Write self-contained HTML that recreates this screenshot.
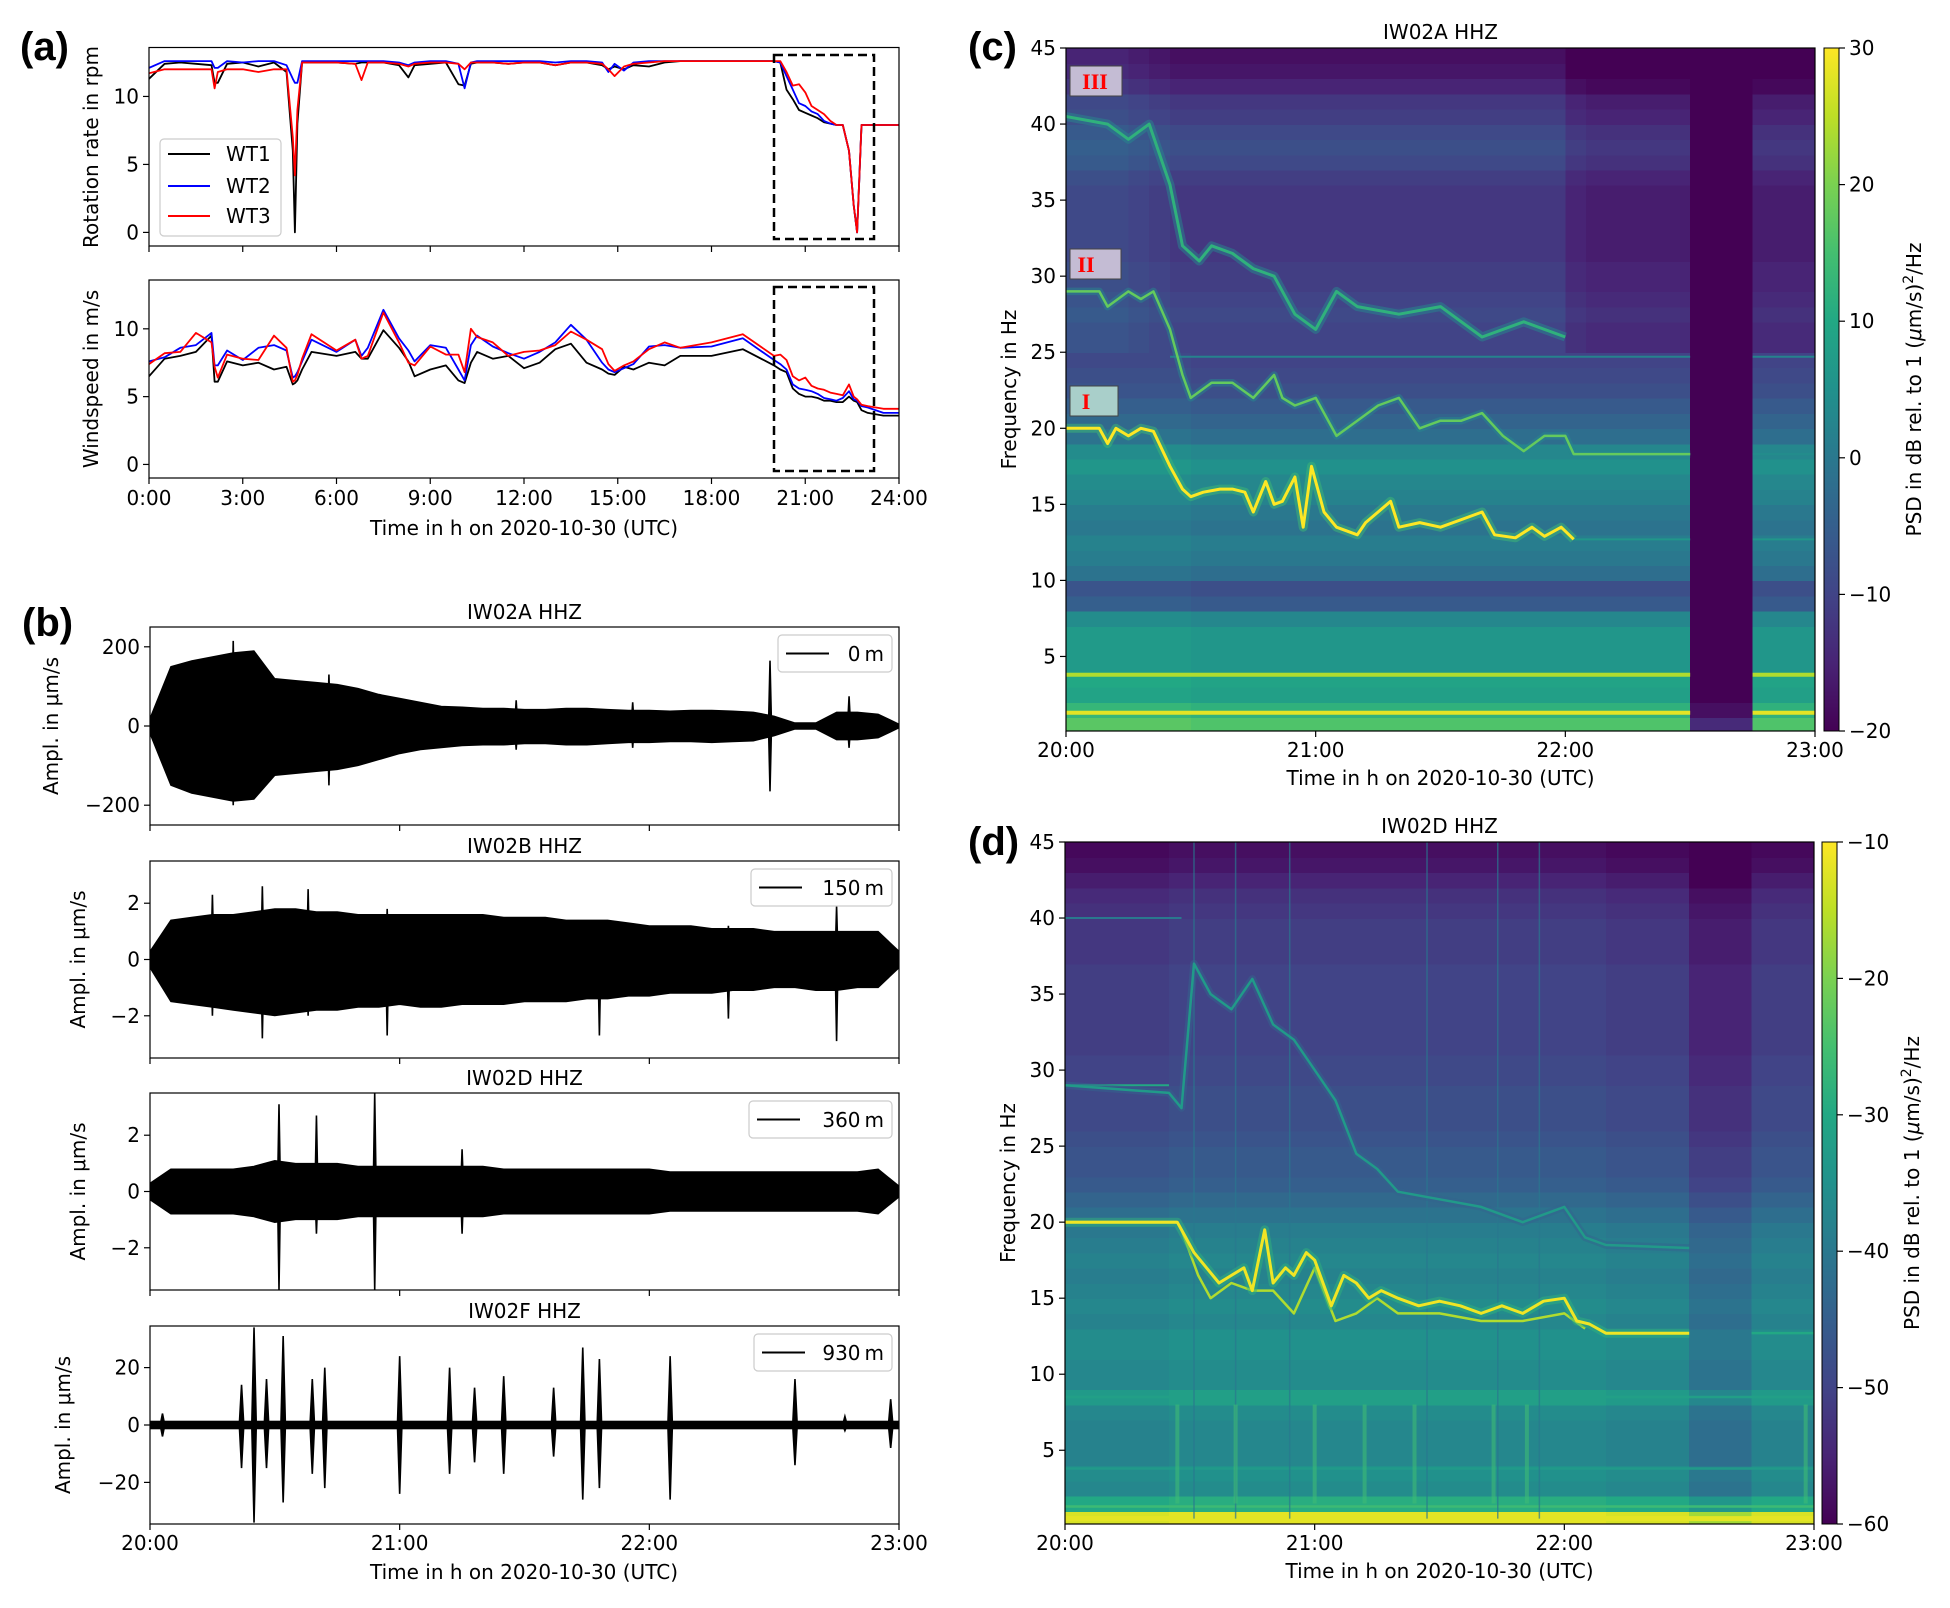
<!DOCTYPE html>
<html><head><meta charset="utf-8">
<style>
html,body{margin:0;padding:0;background:#fff;}
svg{display:block;}
text{font-family:"DejaVu Sans","Liberation Sans",sans-serif;}
</style></head>
<body>
<svg id="fig" width="1950" height="1608" viewBox="0 0 1950 1608" xmlns="http://www.w3.org/2000/svg">
<defs>
<linearGradient id="vir" x1="0" y1="1" x2="0" y2="0">
<stop offset="0" stop-color="#440154"/><stop offset="0.1" stop-color="#482475"/><stop offset="0.2" stop-color="#414487"/><stop offset="0.3" stop-color="#355f8d"/><stop offset="0.4" stop-color="#2a788e"/><stop offset="0.5" stop-color="#21918c"/><stop offset="0.6" stop-color="#22a884"/><stop offset="0.7" stop-color="#44bf70"/><stop offset="0.8" stop-color="#7ad151"/><stop offset="0.9" stop-color="#bddf26"/><stop offset="1" stop-color="#fde725"/>
</linearGradient>
<clipPath id="clipA1"><rect x="149" y="47.5" width="750" height="198.5"/></clipPath>
<clipPath id="clipA2"><rect x="149" y="280" width="750" height="198"/></clipPath>
<clipPath id="clipC"><rect x="1066" y="48" width="749" height="683"/></clipPath>
<clipPath id="clipD"><rect x="1065" y="842" width="749" height="682"/></clipPath>
</defs>
<text x="20" y="60" font-size="40" font-weight="bold" style="font-family:'Liberation Sans',sans-serif">(a)</text>
<text x="22" y="636" font-size="40" font-weight="bold" style="font-family:'Liberation Sans',sans-serif">(b)</text>
<text x="968" y="60" font-size="40" font-weight="bold" style="font-family:'Liberation Sans',sans-serif">(c)</text>
<text x="968" y="855" font-size="40" font-weight="bold" style="font-family:'Liberation Sans',sans-serif">(d)</text>
<g id="root"></g>
</svg>
<script>
// ---------- Panel (a) data ----------
const timesA = [0,0.5,1,1.5,2,2.1,2.2,2.5,3,3.5,4,4.4,4.6,4.67,4.75,4.9,5.2,6,6.6,6.8,7,7.5,8,8.3,8.5,9,9.5,9.9,10.1,10.3,10.5,11,11.5,12,12.5,13,13.5,14,14.5,14.7,14.9,15.2,15.5,16,16.5,17,18,19,20,20.2,20.4,20.6,20.8,21,21.2,21.4,21.6,21.8,22,22.2,22.4,22.55,22.66,22.8,23,23.5,24];
const rotWT1 = [11.3,12.4,12.5,12.4,12.3,11.0,11.0,12.4,12.5,12.2,12.5,11.8,6,0,8,12.5,12.5,12.5,12.4,12.5,12.5,12.5,12.3,11.4,12.3,12.4,12.5,10.9,10.8,12.4,12.5,12.5,12.4,12.5,12.5,12.3,12.5,12.5,12.3,12.0,12.2,12.0,12.3,12.2,12.5,12.6,12.6,12.6,12.6,12.5,10.5,9.8,9.0,8.8,8.6,8.4,8.1,8.0,7.9,7.9,6,2,0,7.9,7.9,7.9,7.9];
const rotWT2 = [12.1,12.6,12.6,12.6,12.6,12.1,12.1,12.6,12.5,12.6,12.6,12.3,11.3,11.0,11.0,12.6,12.6,12.6,12.6,12.6,12.6,12.6,12.5,12.3,12.5,12.6,12.6,12.4,10.6,12.5,12.6,12.6,12.6,12.6,12.6,12.5,12.6,12.6,12.5,11.8,12.4,11.9,12.5,12.6,12.6,12.6,12.6,12.6,12.6,12.5,11.5,10.5,9.5,9.3,8.9,8.7,8.2,8.0,7.9,7.9,6,2,0,7.9,7.9,7.9,7.9];
const rotWT3 = [11.7,12.0,12.0,12.0,12.0,10.6,11.8,12.0,12.0,11.8,12.0,12.0,7,4.2,9,12.5,12.5,12.5,12.4,11.2,12.5,12.5,12.4,12.2,12.4,12.5,12.5,12.4,12.0,12.5,12.5,12.5,12.4,12.5,12.5,12.3,12.5,12.5,12.4,12.0,11.5,12.2,12.4,12.5,12.6,12.6,12.6,12.6,12.6,12.6,11.8,10.8,10.9,10.3,9.3,9.0,8.7,8.2,7.9,7.9,6,2,0,7.9,7.9,7.9,7.9];
const windWT1 = [6.5,7.8,8.0,8.3,9.5,6.1,6.1,7.6,7.3,7.5,7.0,7.2,5.9,6.0,6.2,7.0,8.3,8.0,8.3,7.8,7.8,9.9,8.6,7.6,6.5,7.0,7.3,6.2,6.0,7.5,8.3,7.8,8.0,7.1,7.5,8.5,8.9,7.5,7.0,6.7,6.6,7.2,7.0,7.5,7.3,8.0,8.0,8.5,7.3,7.0,6.8,5.6,5.2,5.0,5.0,4.9,4.7,4.7,4.6,4.6,5.0,4.7,4.6,4.0,3.8,3.6,3.6];
const windWT2 = [7.6,7.9,8.6,8.8,9.7,7.3,7.3,8.4,7.7,8.6,8.8,8.4,6.4,6.5,6.8,7.6,9.2,8.3,9.2,8.0,8.6,11.4,9.3,8.4,7.6,8.8,8.6,7.0,6.2,8.8,9.5,8.7,8.2,7.8,8.3,9.0,10.3,9.2,7.5,7.0,6.8,7.1,7.4,8.7,8.8,8.6,8.7,9.3,7.7,7.4,7.0,5.9,5.6,5.5,5.4,5.2,4.9,4.8,4.7,4.9,5.4,4.8,4.7,4.3,4.2,3.8,3.8];
const windWT3 = [7.4,8.2,8.3,9.7,9.0,7.2,6.4,8.1,7.8,7.7,9.5,8.6,6.1,6.2,6.6,7.8,9.6,8.4,9.2,7.8,8.0,11.2,9.0,7.5,7.3,8.7,8.1,8.1,6.8,10.0,9.4,9.0,8.0,8.3,8.4,8.8,9.8,9.2,8.5,7.4,6.9,7.3,7.6,8.5,9.0,8.6,9.0,9.6,8.0,8.1,7.7,6.5,6.2,6.4,5.8,5.6,5.5,5.3,5.2,5.1,5.9,5.0,4.8,4.4,4.3,4.1,4.1];
const hourTicks = [0,3,6,9,12,15,18,21,24];
const hourTickLabels = ["0:00","3:00","6:00","9:00","12:00","15:00","18:00","21:00","24:00"];
const rotTicks = [0,5,10];
const windTicks = [0,5,10];

// ---------- Panel (b) data (minutes after 20:00) ----------
const envT = [0,5,10,15,20,25,30,35,40,45,50,55,60,65,70,75,80,85,90,95,100,105,110,115,120,125,130,135,140,145,150,155,160,165,170,175,180];
const envAhi = [20,150,165,175,185,190,120,115,110,105,95,80,70,60,50,48,45,45,42,42,45,45,42,40,40,38,40,40,38,35,25,8,8,35,35,30,5];
const envAlo = [-20,-150,-170,-180,-190,-185,-125,-120,-115,-110,-100,-85,-70,-60,-55,-50,-48,-48,-45,-45,-48,-48,-45,-42,-42,-40,-40,-42,-40,-38,-25,-8,-8,-35,-35,-30,-5];
const spikeAt = [149,116,88,168,20,43];
const spikeAhi = [165,60,65,75,215,130];
const spikeAlo = [-165,-55,-60,-55,-200,-150];
const envBhi = [0.3,1.4,1.5,1.6,1.6,1.7,1.8,1.8,1.7,1.7,1.6,1.6,1.6,1.6,1.6,1.6,1.6,1.5,1.5,1.5,1.4,1.4,1.4,1.3,1.2,1.2,1.2,1.1,1.1,1.1,1.0,1.0,1.0,1.0,1.0,1.0,0.3];
const envBlo = [-0.3,-1.5,-1.6,-1.7,-1.8,-1.9,-2.0,-1.9,-1.8,-1.8,-1.7,-1.7,-1.6,-1.7,-1.7,-1.6,-1.6,-1.6,-1.5,-1.5,-1.5,-1.4,-1.4,-1.3,-1.3,-1.2,-1.2,-1.2,-1.1,-1.1,-1.0,-1.0,-1.1,-1.1,-1.0,-1.0,-0.3];
const spikeBt = [27,38,57,108,139,165,15];
const spikeBhi = [2.6,2.5,1.8,1.2,1.2,1.9,2.3];
const spikeBlo = [-2.8,-2.0,-2.7,-2.7,-2.1,-2.9,-2.0];
const envDhi = [0.3,0.8,0.8,0.8,0.8,0.9,1.1,1.0,1.0,1.0,0.9,0.9,0.9,0.9,0.9,0.9,0.9,0.8,0.8,0.8,0.8,0.8,0.8,0.8,0.8,0.7,0.7,0.7,0.7,0.7,0.7,0.7,0.7,0.7,0.7,0.8,0.2];
const envDlo = [-0.3,-0.8,-0.8,-0.8,-0.8,-0.9,-1.1,-1.0,-1.0,-1.0,-0.9,-0.9,-0.9,-0.9,-0.9,-0.9,-0.9,-0.8,-0.8,-0.8,-0.8,-0.8,-0.8,-0.8,-0.8,-0.7,-0.7,-0.7,-0.7,-0.7,-0.7,-0.7,-0.7,-0.7,-0.7,-0.8,-0.2];
const spikeDt = [31,40,54,75];
const spikeDhi = [3.1,2.7,3.5,1.5];
const spikeDlo = [-3.5,-1.5,-3.5,-1.5];
const burstFt = [3,22,25,28,32,39,42,60,72,78,85,97,104,108,125,155,167,178];
const burstFhi = [4,14,34,16,31,16,20,24,20,13,17,13,27,23,24,16,3,9];
const burstFlo = [-4,-15,-34,-15,-27,-17,-22,-24,-17,-13,-17,-11,-26,-22,-26,-14,-2,-8];
const minTicks = [0,60,120,180];
const minTickLabels = ["20:00","21:00","22:00","23:00"];

// ---------- Panel (c) spectrogram data ----------
const freqTicks = [5,10,15,20,25,30,35,40,45];
const bandC = [16,12,8,9,6,6,6,3,-6,-8,-2,0,1,-1,0,2,3,5,3,-2,-4,-6,-8,-9,-10,-12,-12,-11,-12,-13,-13,-14,-14,-14,-14,-14,-13,-11,-10,-11,-13,-14,-17,-19,-20];
const lowModC = [1,1,1,1,1,1,0,0,0,0,0,0,0,0,0,0,0,0,0,0,0,0,0,0,0,0,0,0,0,0,-30,-30,-30,0,0,0];
const highModC = [5,5,5,4,3,2,2,2,2,2,2,2,2,2,2,2,2,2,2,2,2,2,2,2,-1,-2,-2,-2,-2,-2,-30,-30,-30,-2,-2,-2];
const trackC1t = [0,8,10,12,15,18,21,25,28,30,33,37,40,43,45,48,50,52,55,57,59,62,65,70,72,75,78,80,85,90,95,100,103,108,112,115,119,122];
const trackC1f = [20,20,19,20,19.5,20,19.8,17.5,16,15.5,15.8,16,16,15.8,14.5,16.5,15,15.2,16.8,13.5,17.5,14.5,13.5,13,13.8,14.5,15.2,13.5,13.8,13.5,14,14.5,13,12.8,13.5,12.9,13.5,12.7];
const trackC2t = [0,8,10,15,18,21,25,28,30,35,40,45,50,52,55,60,65,70,75,80,85,90,95,100,105,110,115,120,122,150];
const trackC2f = [29,29,28,29,28.5,29,26.5,23.5,22,23,23,22,23.5,22,21.5,22,19.5,20.5,21.5,22,20,20.5,20.5,21,19.5,18.5,19.5,19.5,18.3,18.3];
const trackC3t = [0,10,15,20,25,28,32,35,40,45,50,55,60,65,70,80,90,100,110,120];
const trackC3f = [40.5,40,39,40,36,32,31,32,31.5,30.5,30,27.5,26.5,29,28,27.5,28,26,27,26];
const hLinesCf = [1.3,3.8,24.7,12.7,18.3];
const hLinesCv = [28,24,2,6,4];
const hLinesCstart = [0,0,25,122,122];
const psdTicksC = [-20,-10,0,10,20,30];

// ---------- Panel (d) spectrogram data ----------
const bandD = [-13,-30,-37,-36,-38,-38,-38,-37,-33,-37,-37,-36,-36,-38,-37,-38,-39,-38,-39,-40,-42,-44,-46,-47,-47,-48,-49,-49,-49,-50,-50,-51,-51,-51,-51,-51,-51,-52,-52,-52,-53,-54,-56,-58,-59];
const modD = [0,0,0,0,0,1,1,1,1,1,1,1,1,1,1,1,1,1,1,1,1,1,1,1,1,1,0,0,0,0,-4,-4,-4,0,0,0];
const trackD1t = [0,27,29,31,34,37,40,43,45,48,50,53,55,58,60,62,64,67,70,73,76,80,85,90,95,100,105,110,115,120,123,126,130,150];
const trackD1f = [20,20,19,18,17,16,16.5,17,15.5,19.5,16,17,16.5,18,17.5,16,14.5,16.5,16,15,15.5,15,14.5,14.8,14.5,14,14.5,14,14.8,15,13.5,13.3,12.7,12.7];
const trackD1bt = [28,32,35,40,45,50,55,60,65,70,75,80,90,100,110,120,125];
const trackD1bf = [19.5,16.5,15,16,15.5,15.5,14,17,13.5,14,15,14,14,13.5,13.5,14,13];
const trackD2t = [0,25,28,31,35,40,45,50,55,60,65,70,75,80,90,100,110,120,125,130,150];
const trackD2f = [29,28.5,27.5,37,35,34,36,33,32,30,28,24.5,23.5,22,21.5,21,20,21,19,18.5,18.3];
const streakDt = [31,41,54,87,104,114];
const blobDt = [27,41,60,72,84,103,111,178];
const hLinesDf = [0.5,1.3,3.8,8.5,12.7];
const hLinesDv = [-12,-26,-33,-32,-30];
const psdTicksD = [-60,-50,-40,-30,-20,-10];

// ---------- helpers ----------
const NS = "http://www.w3.org/2000/svg";
const root = document.getElementById('root');
function el(tag, attrs, parent){ const e=document.createElementNS(NS,tag); for(const k in attrs) e.setAttribute(k,attrs[k]); (parent||root).appendChild(e); return e; }
function lin(d0,d1,r0,r1){ return v => r0+(v-d0)*(r1-r0)/(d1-d0); }
const VIR = [[68,1,84],[72,36,117],[65,68,135],[53,95,141],[42,120,142],[33,145,140],[34,168,132],[68,191,112],[122,209,81],[189,223,38],[253,231,37]];
function viridis(u){ u=Math.max(0,Math.min(1,u)); const p=u*10, i=Math.min(9,Math.floor(p)), f=p-i; const a=VIR[i], b=VIR[i+1]; return `rgb(${Math.round(a[0]+(b[0]-a[0])*f)},${Math.round(a[1]+(b[1]-a[1])*f)},${Math.round(a[2]+(b[2]-a[2])*f)})`; }
function txt(x,y,s,size,anchor,parent,extra){ const t=el('text',Object.assign({x:x,y:y,'font-size':size,'text-anchor':anchor||'middle',fill:'#000'},extra||{}),parent); t.textContent=s; return t; }

function frame(x0,y0,x1,y1,name){
  const r=el('rect',{x:x0,y:y0,width:x1-x0,height:y1-y0,fill:'none',stroke:'#000','stroke-width':1.2});
  
  
}

// ---------- Panel (a) ----------
const AX0=149, AX1=899;
const ax = lin(0,24,AX0,AX1);
const ay1 = lin(-1,13.6,246,47.5);
const ay2 = lin(-1,13.6,478,280);
function lineSeries(xs, ys, sx, sy, color, clip, name){
  let d=''; xs.forEach((t,i)=>{ d+=(i?'L':'M')+sx(t).toFixed(1)+','+sy(ys[i]).toFixed(1); });
  const p=el('path',{d:d,fill:'none',stroke:color,'stroke-width':1.8,'clip-path':clip,'stroke-linejoin':'round'});
  
  
}
lineSeries(timesA, rotWT1, ax, ay1, '#000', 'url(#clipA1)', 'rotation-wt1-line');
lineSeries(timesA, rotWT2, ax, ay1, '#0000ff', 'url(#clipA1)', 'rotation-wt2-line');
lineSeries(timesA, rotWT3, ax, ay1, '#ff0000', 'url(#clipA1)', 'rotation-wt3-line');
lineSeries(timesA, windWT1, ax, ay2, '#000', 'url(#clipA2)', 'wind-wt1-line');
lineSeries(timesA, windWT2, ax, ay2, '#0000ff', 'url(#clipA2)', 'wind-wt2-line');
lineSeries(timesA, windWT3, ax, ay2, '#ff0000', 'url(#clipA2)', 'wind-wt3-line');
frame(AX0,47.5,AX1,246,'rotation-axes-frame');
frame(AX0,280,AX1,478,'windspeed-axes-frame');
[[55,239],[287,471]].forEach((b,i)=>{
  const r=el('rect',{x:774,y:b[0],width:100,height:b[1]-b[0],fill:'none',stroke:'#000','stroke-width':2.5,'stroke-dasharray':'9,5'});
  
  
});
hourTicks.forEach((h,i)=>{
  [246,478].forEach(yb=>{ const t=el('line',{x1:ax(h),x2:ax(h),y1:yb,y2:yb+6,stroke:'#000','stroke-width':1.2});   });
  const l=txt(ax(h),505,hourTickLabels[i],20);
  
  
});
rotTicks.forEach(v=>{ const t=el('line',{x1:AX0-6,x2:AX0,y1:ay1(v),y2:ay1(v),stroke:'#000','stroke-width':1.2});  
  const l=txt(AX0-10,ay1(v)+7,String(v),20,'end');   });
windTicks.forEach(v=>{ const t=el('line',{x1:AX0-6,x2:AX0,y1:ay2(v),y2:ay2(v),stroke:'#000','stroke-width':1.2});  
  const l=txt(AX0-10,ay2(v)+7,String(v),20,'end');   });
{ let l=txt(0,0,'Rotation rate in rpm',20,'middle',root,{transform:'translate(98,147) rotate(-90)'});  
  l=txt(0,0,'Windspeed in m/s',20,'middle',root,{transform:'translate(98,379) rotate(-90)'});  
  l=txt(524,535,'Time in h on 2020-10-30 (UTC)',20);   }
{ const g=el('g',{});  
  el('rect',{x:160,y:139,width:121,height:97,rx:4,fill:'#fff',stroke:'#ccc','stroke-width':1.2},g);
  [['WT1','#000',154],['WT2','#0000ff',186],['WT3','#ff0000',216]].forEach(e=>{
    const ln=el('line',{x1:168,x2:210,y1:e[2],y2:e[2],stroke:e[1],'stroke-width':2},g);
    
    
    const t=txt(226,e[2]+7,e[0],20,'start',g);
    
    
  });
}

// ---------- Panel (b) ----------
const BX0=150, BX1=899;
const bx = lin(0,180,BX0,BX1);
const bpanels = [
  {title:'IW02A HHZ', y0:627, y1:825, lim:250, ticks:[-200,0,200], labels:['\u2212200','0','200'], hi:envAhi, lo:envAlo, st:spikeAt, sh:spikeAhi, sl:spikeAlo, leg:'0\u2009m', lx:778, ylx:58, name:'iw02a'},
  {title:'IW02B HHZ', y0:861, y1:1058, lim:3.5, ticks:[-2,0,2], labels:['\u22122','0','2'], hi:envBhi, lo:envBlo, st:spikeBt, sh:spikeBhi, sl:spikeBlo, leg:'150\u2009m', lx:751, ylx:85, name:'iw02b'},
  {title:'IW02D HHZ', y0:1093, y1:1290, lim:3.5, ticks:[-2,0,2], labels:['\u22122','0','2'], hi:envDhi, lo:envDlo, st:spikeDt, sh:spikeDhi, sl:spikeDlo, leg:'360\u2009m', lx:749, ylx:85, name:'iw02d'},
  {title:'IW02F HHZ', y0:1326, y1:1524, lim:34.5, ticks:[-20,0,20], labels:['\u221220','0','20'], hi:null, lo:null, st:burstFt, sh:burstFhi, sl:burstFlo, leg:'930\u2009m', lx:754, ylx:70, name:'iw02f'}
];
bpanels.forEach((P,pi)=>{
  const sy = lin(-P.lim,P.lim,P.y1,P.y0);
  const clipId='clipB'+pi;
  const cp=el('clipPath',{id:clipId}); el('rect',{x:BX0,y:P.y0,width:BX1-BX0,height:P.y1-P.y0},cp);
  const g=el('g',{'clip-path':'url(#'+clipId+')'});
  
  
  if(P.hi){
    let d='M'+bx(envT[0])+','+sy(P.hi[0]);
    envT.forEach((t,i)=>{ d+='L'+bx(t).toFixed(1)+','+sy(P.hi[i]).toFixed(1); });
    for(let i=envT.length-1;i>=0;i--) d+='L'+bx(envT[i]).toFixed(1)+','+sy(P.lo[i]).toFixed(1);
    const pth=el('path',{d:d+'Z',fill:'#000',stroke:'#000','stroke-width':1},g);
    
    
  } else {
    const bl=el('rect',{x:BX0,y:sy(1.5),width:BX1-BX0,height:sy(-1.5)-sy(1.5),fill:'#000'},g);
    
    
  }
  P.st.forEach((t,i)=>{
    const w = P.hi ? 0.6 : 0.9;
    const d='M'+(bx(t)-w*2.5)+','+sy(0)+'L'+bx(t)+','+sy(P.sh[i])+'L'+(bx(t)+w*2.5)+','+sy(0)+'L'+bx(t)+','+sy(P.sl[i])+'Z';
    const s=el('path',{d:d,fill:'#000',stroke:'#000','stroke-width':1.6},g);
    
    
  });
  frame(BX0,P.y0,BX1,P.y1,P.name+'-axes-frame');
  let tl=txt((BX0+BX1)/2,P.y0-8,P.title,20);  
  P.ticks.forEach((v,i)=>{ const t=el('line',{x1:BX0-6,x2:BX0,y1:sy(v),y2:sy(v),stroke:'#000','stroke-width':1.2});  
    const l=txt(BX0-10,sy(v)+7,P.labels[i],20,'end');   });
  minTicks.forEach(m=>{ const t=el('line',{x1:bx(m),x2:bx(m),y1:P.y1,y2:P.y1+6,stroke:'#000','stroke-width':1.2});   });
  let yl=txt(0,0,'Ampl. in \u03bcm/s',20,'middle',root,{transform:`translate(${P.ylx},${(P.y0+P.y1)/2}) rotate(-90)`});  
  const lg=el('g',{});  
  const ly=P.y0+8;
  el('rect',{x:P.lx,y:ly,width:892-P.lx,height:37,rx:4,fill:'#fff',stroke:'#ccc','stroke-width':1.2},lg);
  const le=el('line',{x1:P.lx+8,x2:P.lx+51,y1:ly+18.5,y2:ly+18.5,stroke:'#000','stroke-width':2},lg);  
  const lt=txt(884,ly+26,P.leg,20,'end',lg);  
});
minTicks.forEach((m,i)=>{ const l=txt(bx(m),1550,minTickLabels[i],20);   });
{ const l=txt(524,1579,'Time in h on 2020-10-30 (UTC)',20);   }

// ---------- Spectrogram renderer ----------
function spectro(cfg){
  const sx=lin(0,180,cfg.x0,cfg.x1), sy=lin(cfg.fmin,45,cfg.y1,cfg.y0);
  const col = v => viridis((v-cfg.vmin)/(cfg.vmax-cfg.vmin));
  const g=el('g',{'clip-path':cfg.clip,'shape-rendering':'crispEdges'});
  
  
  for(let ti=0;ti<36;ti++){
    for(let fi=0;fi<45;fi++){
      const v = cfg.value(ti,fi);
      const r=el('rect',{x:sx(ti*5).toFixed(1),y:sy(fi+1).toFixed(1),width:(sx(5)-sx(0)+0.8).toFixed(1),height:(sy(0)-sy(1)+0.8).toFixed(1),fill:col(v)},g);
      
      
    }
  }
  const g2=el('g',{'clip-path':cfg.clip});
  
  
  cfg.hlines.forEach(h=>{
    h.spans.forEach(sp=>{
      const l=el('line',{x1:sx(sp[0]),x2:sx(sp[1]),y1:sy(h.f),y2:sy(h.f),stroke:col(h.v),'stroke-width':h.w||3},g2);
      
      
    });
  });
  (cfg.streaks||[]).forEach(s=>{
    const l=el('line',{x1:sx(s.t),x2:sx(s.t),y1:sy(s.f0),y2:sy(s.f1),stroke:col(s.v),'stroke-width':s.w,'stroke-opacity':s.o||1},g2);
    
    
  });
  cfg.tracks.forEach(tr=>{
    let d=''; tr.t.forEach((t,i)=>{ d+=(i?'L':'M')+sx(t).toFixed(1)+','+sy(tr.f[i]).toFixed(1); });
    if(tr.halo){ const h=el('path',{d:d,fill:'none',stroke:col(tr.halo),'stroke-width':tr.w*3,'stroke-linejoin':'round','stroke-opacity':0.5},g2);   }
    const p=el('path',{d:d,fill:'none',stroke:col(tr.v),'stroke-width':tr.w,'stroke-linejoin':'round'},g2);
    
    
  });
  frame(cfg.x0,cfg.y0,cfg.x1,cfg.y1,cfg.name+'-axes-frame');
  let t=txt((cfg.x0+cfg.x1)/2,cfg.y0-9,cfg.title,20);  
  freqTicks.forEach(f=>{ const k=el('line',{x1:cfg.x0-6,x2:cfg.x0,y1:sy(f),y2:sy(f),stroke:'#000','stroke-width':1.2});  
    const l=txt(cfg.x0-10,sy(f)+7,String(f),20,'end');   });
  minTicks.forEach((m,i)=>{ const k=el('line',{x1:sx(m),x2:sx(m),y1:cfg.y1,y2:cfg.y1+6,stroke:'#000','stroke-width':1.2});  
    const l=txt(sx(m),cfg.y1+26,minTickLabels[i],20);   });
  let xl=txt((cfg.x0+cfg.x1)/2,cfg.y1+54,'Time in h on 2020-10-30 (UTC)',20);  
  let yl=txt(0,0,'Frequency in Hz',20,'middle',root,{transform:`translate(${cfg.x0-50},${(cfg.y0+cfg.y1)/2}) rotate(-90)`});  
  const cb=el('rect',{x:cfg.cbx,y:cfg.y0,width:15,height:cfg.y1-cfg.y0,fill:'url(#vir)',stroke:'#000','stroke-width':1});
  
  
  const cy=lin(cfg.vmin,cfg.vmax,cfg.y1,cfg.y0);
  cfg.cticks.forEach(v=>{ const k=el('line',{x1:cfg.cbx+15,x2:cfg.cbx+21,y1:cy(v),y2:cy(v),stroke:'#000','stroke-width':1.2});  
    const l=txt(cfg.cbx+25,cy(v)+7,(v<0?'\u2212':'')+Math.abs(v),20,'start');   });
  const cl=el('text',{x:0,y:0,'font-size':20,'text-anchor':'middle',transform:`translate(${cfg.cbx+97},${(cfg.y0+cfg.y1)/2}) rotate(-90)`});
  cl.innerHTML='PSD in dB rel. to 1 (<tspan font-style="italic">\u03bc</tspan>m/s)<tspan dy="-8" font-size="14">2</tspan><tspan dy="8">/Hz</tspan>';
  
  
  return {sx:sx,sy:sy};
}

// (c)
spectro({name:'spectrogram-c', title:'IW02A HHZ', x0:1066, x1:1815, y0:48, y1:731, fmin:0.1, vmin:-20, vmax:30, clip:'url(#clipC)', cbx:1824, cticks:psdTicksC,
  value:(ti,fi)=> bandC[fi] + (fi>=25 ? highModC[ti] : lowModC[ti]),
  hlines: hLinesCf.map((f,i)=>({f:f, v:hLinesCv[i], w:(i<2?4:2), spans:[[hLinesCstart[i],150],[165,180]]})),
  tracks:[
    {name:'harmonic-iii-track', t:trackC3t, f:trackC3f, v:12, w:3, halo:3},
    {name:'harmonic-ii-track', t:trackC2t, f:trackC2f, v:18, w:2.5, halo:3},
    {name:'harmonic-i-track', t:trackC1t, f:trackC1f, v:30, w:3, halo:14}
  ]});
[['III',66,1070,1122],['II',249,1070,1121],['I',386,1070,1118]].forEach((b,i)=>{
  const g=el('g',{});  
  el('rect',{x:b[2],y:b[1],width:b[3]-b[2],height:30,fill:i<2?'#c4bcd4':'#a9cfca',stroke:'#444','stroke-width':1},g);
  txt(b[2]+(i===0?25:16),b[1]+23,b[0],22,'middle',g,{fill:'#ff0000','font-weight':'bold',style:"font-family:'Liberation Serif',serif"});
});

// (d)
spectro({name:'spectrogram-d', title:'IW02D HHZ', x0:1065, x1:1814, y0:842, y1:1524, fmin:0.15, vmin:-60, vmax:-10, clip:'url(#clipD)', cbx:1822, cticks:psdTicksD,
  value:(ti,fi)=> bandD[fi] + modD[ti],
  hlines: hLinesDf.map((f,i)=>({f:f, v:hLinesDv[i], w:(i===0?5:2.5), spans: i===4?[[130,150],[165,180]]:[[0,180]]})).concat([{f:20, v:-12, w:3, spans:[[0,27]]},{f:29,v:-30,w:2,spans:[[0,25]]},{f:40,v:-40,w:2,spans:[[0,28]]}]),
  streaks: streakDt.map(t=>({t:t, f0:0.5, f1:45, v:-40, w:1.5, o:0.7})).concat(blobDt.map(t=>({t:t, f0:1.5, f1:8, v:-26, w:4, o:0.6}))),
  tracks:[
    {name:'harmonic-upper-track', t:trackD2t, f:trackD2f, v:-33, w:2.5, halo:-44},
    {name:'harmonic-lower-track-b', t:trackD1bt, f:trackD1bf, v:-16, w:2.5},
    {name:'harmonic-lower-track', t:trackD1t, f:trackD1f, v:-11, w:3, halo:-28}
  ]});
</script>
</body></html>
